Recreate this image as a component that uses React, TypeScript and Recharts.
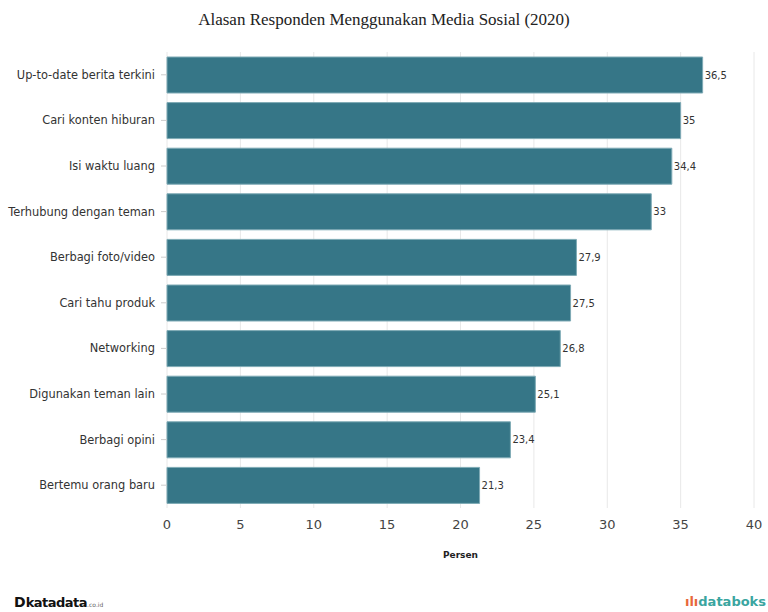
import { BarChart, Bar, XAxis, YAxis, CartesianGrid, LabelList } from "recharts"

const categories = [
  "Up-to-date berita terkini",
  "Cari konten hiburan",
  "Isi waktu luang",
  "Terhubung dengan teman",
  "Berbagi foto/video",
  "Cari tahu produk",
  "Networking",
  "Digunakan teman lain",
  "Berbagi opini",
  "Bertemu orang baru",
]

const values = [36.5, 35, 34.4, 33, 27.9, 27.5, 26.8, 25.1, 23.4, 21.3]

const xTicks = [0, 5, 10, 15, 20, 25, 30, 35, 40]

const data = categories.map((name, i) => ({ name, value: values[i] }))

const sans = "'DejaVu Sans', Verdana, sans-serif"

export default function App() {
  return (
    <div style={{ position: "absolute", left: 0, top: 0, width: 768, height: 612, background: "#fff" }}>
      <div
        style={{
          position: "absolute",
          top: 9,
          left: 0,
          width: 768,
          textAlign: "center",
          fontFamily: "'Liberation Serif', 'Times New Roman', serif",
          fontSize: 17,
          lineHeight: "22px",
          color: "#222",
        }}
      >
        Alasan Responden Menggunakan Media Sosial (2020)
      </div>
      <BarChart
        width={768}
        height={612}
        data={data}
        layout="vertical"
        margin={{ top: 52, right: 14, bottom: 54, left: 0 }}
        barSize={36}
      >
        <CartesianGrid horizontal={false} stroke="#e8e8e8" />
        <XAxis
          type="number"
          domain={[0, 40]}
          ticks={xTicks}
          axisLine={false}
          tickLine={false}
          tickSize={0}
          tickMargin={12}
          height={50}
          tick={{ fontSize: 13, fill: "#444", fontFamily: sans }}
          label={{
            value: "Persen",
            position: "insideBottom",
            offset: 0,
            style: { fontSize: 9, fontWeight: "bold", fill: "#222", fontFamily: sans },
          }}
        />
        <YAxis
          type="category"
          dataKey="name"
          width={167}
          axisLine={false}
          tickSize={6}
          tickMargin={6}
          tickLine={{ stroke: "#ccc" }}
          tick={{ fontSize: 11.4, fill: "#333", fontFamily: sans }}
        />
        <Bar dataKey="value" fill="#2f7283" fillOpacity={0.97} stroke="#7eaab5" strokeWidth={1} isAnimationActive={false}>
          <LabelList
            dataKey="value"
            position="right"
            offset={2}
            formatter={(v: number) => String(v).replace(".", ",")}
            style={{ fontSize: 10, fill: "#333", fontFamily: sans }}
          />
        </Bar>
      </BarChart>
      <div
        style={{
          position: "absolute",
          left: 14,
          top: 594,
          lineHeight: "16px",
          fontFamily: sans,
          fontSize: 13,
          color: "#111",
        }}
      >
        <b style={{ fontSize: 14 }}>D</b>
        <span style={{ fontWeight: "bold", letterSpacing: -0.5 }}>katadata</span>
        <span style={{ fontSize: 6, color: "#666" }}>.co.id</span>
      </div>
      <div
        style={{
          position: "absolute",
          right: 2,
          top: 594,
          lineHeight: "16px",
          fontFamily: sans,
          fontSize: 13,
          fontWeight: "bold",
          color: "#3aa5a0",
        }}
      >
        <span style={{ color: "#e8683a" }}>ılı</span>databoks
      </div>
    </div>
  )
}
